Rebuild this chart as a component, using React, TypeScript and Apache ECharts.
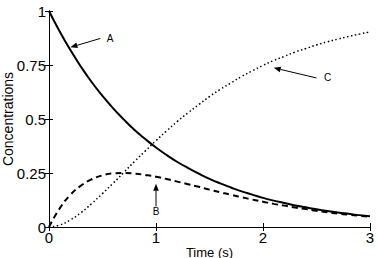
import React, { useEffect, useRef } from "react";
import * as echarts from "echarts";

// Sampling times (s)
const times = [
  0, 0.1, 0.2, 0.3, 0.4, 0.5, 0.6, 0.7, 0.8, 0.9, 1.0, 1.1, 1.2, 1.3, 1.4, 1.5,
  1.6, 1.7, 1.8, 1.9, 2.0, 2.1, 2.2, 2.3, 2.4, 2.5, 2.6, 2.7, 2.8, 2.9, 3.0,
];

// Concentration of A
const concA = [
  1.0, 0.905, 0.819, 0.741, 0.67, 0.607, 0.549, 0.497, 0.449, 0.407, 0.368,
  0.333, 0.301, 0.273, 0.247, 0.223, 0.202, 0.183, 0.165, 0.15, 0.135, 0.122,
  0.111, 0.1, 0.091, 0.082, 0.074, 0.067, 0.061, 0.055, 0.05,
];

// Concentration of B
const concB = [
  0, 0.086, 0.149, 0.192, 0.221, 0.239, 0.248, 0.25, 0.247, 0.241, 0.233,
  0.222, 0.21, 0.198, 0.186, 0.173, 0.161, 0.149, 0.138, 0.127, 0.117, 0.107,
  0.099, 0.09, 0.083, 0.075, 0.068, 0.062, 0.057, 0.052, 0.047,
];

// Concentration of C
const concC = [
  0, 0.009, 0.033, 0.067, 0.109, 0.155, 0.203, 0.253, 0.304, 0.352, 0.4,
  0.445, 0.489, 0.529, 0.567, 0.604, 0.637, 0.667, 0.697, 0.723, 0.748, 0.771,
  0.79, 0.81, 0.826, 0.843, 0.857, 0.87, 0.882, 0.893, 0.903,
];

const yTicks = [0, 0.25, 0.5, 0.75, 1];

const xTitle = "Time (s)";
const yTitle = "Concentrations";

// Callouts in data coordinates: label, arrow tail, arrow tip, label anchor
const callouts = [
  { label: "A", tail: [0.48, 0.873], tip: [0.2, 0.832], text: [0.54, 0.873], align: "left" },
  { label: "C", tail: [2.5, 0.69], tip: [2.1, 0.737], text: [2.57, 0.69], align: "left" },
  { label: "B", tail: [1.0, 0.095], tip: [1.0, 0.2], text: [1.0, 0.07], align: "center" },
];

const FONT = "'Liberation Sans', Arial, sans-serif";

export default function App() {
  const ref = useRef<HTMLDivElement>(null);

  useEffect(() => {
    if (!ref.current) return;
    const chart = echarts.init(ref.current, null, { renderer: "svg" });

    const pairs = (ys: number[]) => times.map((t, i) => [t, ys[i]]);

    const axisLine = { show: true, lineStyle: { color: "#000", width: 1 } };
    const axisTick = { show: true, inside: true, length: 4, lineStyle: { color: "#000" } };

    chart.setOption({
      animation: false,
      backgroundColor: "#fff",
      grid: {
        left: 49,
        right: 7,
        top: 11,
        bottom: 31,
        containLabel: false,
        outerBoundsMode: "none",
      },
      xAxis: [
        {
          type: "value",
          min: 0,
          max: 3,
          interval: 1,
          position: "bottom",
          axisLine,
          axisTick,
          splitLine: { show: false },
          axisLabel: { color: "#000", fontSize: 15, fontFamily: FONT, margin: 3 },
        },
        {
          type: "value",
          min: 0,
          max: 3,
          interval: 1,
          position: "top",
          axisLine,
          axisTick,
          splitLine: { show: false },
          axisLabel: { show: false },
        },
      ],
      yAxis: [
        {
          type: "value",
          min: 0,
          max: 1,
          interval: 0.25,
          position: "left",
          axisLine,
          axisTick,
          splitLine: { show: false },
          axisLabel: {
            color: "#000",
            fontSize: 15,
            fontFamily: FONT,
            margin: 3,
            formatter: (v: number) => (yTicks.includes(v) ? String(v) : ""),
          },
        },
        {
          type: "value",
          min: 0,
          max: 1,
          interval: 0.25,
          position: "right",
          axisLine,
          axisTick,
          splitLine: { show: false },
          axisLabel: { show: false },
        },
      ],
      series: [
        {
          name: "A",
          type: "line",
          data: pairs(concA),
          smooth: true,
          showSymbol: false,
          lineStyle: { color: "#000", width: 2, type: "solid" },
        },
        {
          name: "B",
          type: "line",
          data: pairs(concB),
          smooth: true,
          showSymbol: false,
          lineStyle: { color: "#000", width: 2, type: [6, 4] },
        },
        {
          name: "C",
          type: "line",
          data: pairs(concC),
          smooth: true,
          showSymbol: false,
          lineStyle: { color: "#000", width: 1.5, type: [1.5, 2.5] },
        },
      ],
    });

    // Arrows and letters placed through the axes' own scales
    const toPx = (p: number[]) =>
      chart.convertToPixel({ xAxisIndex: 0, yAxisIndex: 0 }, p) as number[];
    const elements: any[] = [];
    callouts.forEach((c) => {
      const a = toPx(c.tail);
      const b = toPx(c.tip);
      const t = toPx(c.text);
      const dx = b[0] - a[0];
      const dy = b[1] - a[1];
      const len = Math.hypot(dx, dy);
      const ux = dx / len;
      const uy = dy / len;
      const headL = 7;
      const headW = 2.8;
      const base = [b[0] - ux * headL, b[1] - uy * headL];
      elements.push({
        type: "line",
        shape: { x1: a[0], y1: a[1], x2: base[0], y2: base[1] },
        style: { stroke: "#000", lineWidth: 1 },
      });
      elements.push({
        type: "polygon",
        shape: {
          points: [
            [b[0], b[1]],
            [base[0] - uy * headW, base[1] + ux * headW],
            [base[0] + uy * headW, base[1] - ux * headW],
          ],
        },
        style: { fill: "#000" },
      });
      elements.push({
        type: "text",
        x: t[0],
        y: t[1],
        style: {
          text: c.label,
          fill: "#000",
          font: `10px ${FONT}`,
          textAlign: c.align,
          textVerticalAlign: "middle",
        },
      });
    });

    // Axis titles, centred on the plot area
    const origin = toPx([0, 0]);
    const corner = toPx([3, 1]);
    const midX = (origin[0] + corner[0]) / 2;
    const midY = (origin[1] + corner[1]) / 2;
    elements.push({
      type: "text",
      x: midX,
      y: origin[1] + 25,
      style: {
        text: xTitle,
        fill: "#000",
        font: `13px ${FONT}`,
        textAlign: "center",
        textVerticalAlign: "middle",
      },
    });
    elements.push({
      type: "text",
      x: 8,
      y: midY,
      rotation: Math.PI / 2,
      style: {
        text: yTitle,
        fill: "#000",
        font: `14px ${FONT}`,
        textAlign: "center",
        textVerticalAlign: "middle",
      },
    });

    chart.setOption({ graphic: { elements } });

    return () => chart.dispose();
  }, []);

  return (
    <div
      ref={ref}
      style={{ position: "fixed", left: 0, top: 0, width: 377, height: 258 }}
    />
  );
}
